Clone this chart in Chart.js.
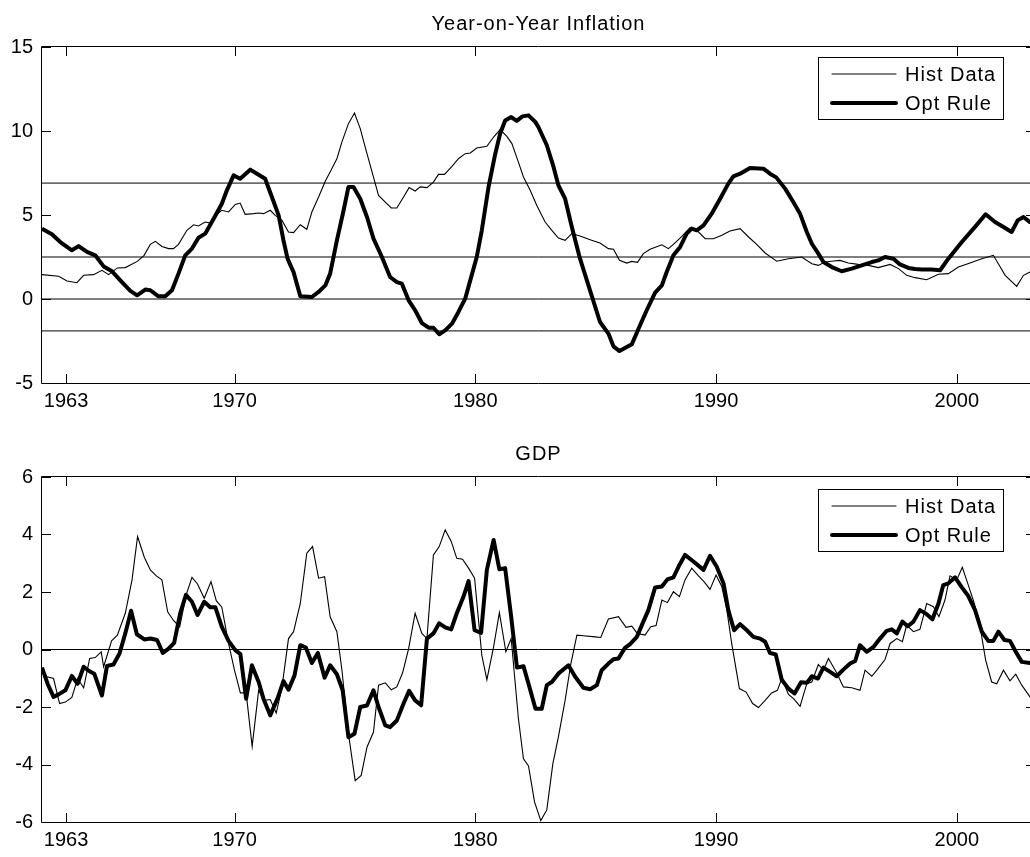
<!DOCTYPE html>
<html>
<head>
<meta charset="utf-8">
<title>Year-on-Year Inflation / GDP</title>
<script src="https://cdn.jsdelivr.net/npm/chart.js@4.4.1/dist/chart.umd.min.js"></script>
<style>
  html, body { margin: 0; padding: 0; background: #fff; overflow: hidden; }
  #wrap { position: relative; width: 1030px; height: 857px; overflow: hidden; }
  canvas { position: absolute; left: 0; }
  #chartInfl { top: 0; }
  #chartGdp { top: 420px; }
</style>
</head>
<body>
<div id="wrap">
  <canvas id="chartInfl" width="1040" height="420"></canvas>
  <canvas id="chartGdp" width="1040" height="437"></canvas>
</div>
<script>
// axis range and ticks
const xMin = 1962, xMax = 2003.25;
const xTickYears = [1963, 1970, 1980, 1990, 2000];
const inflTicks = [-5, 0, 5, 10, 15];
const gdpTicks = [-6, -4, -2, 0, 2, 4, 6];
const inflRefLines = [6.9, 2.5, 0, -1.9];
const gdpRefLines = [0];
const seriesNames = ["Hist Data", "Opt Rule"];

// Year-on-Year Inflation, optimal rule
const inflOptYears = [
  1962.00, 1962.41, 1962.76, 1963.24, 1963.52, 1963.87, 1964.21, 1964.56, 1964.91, 1965.32,
  1965.67, 1965.95, 1966.29, 1966.50, 1966.84, 1967.12, 1967.40, 1967.67, 1967.95, 1968.23,
  1968.50, 1968.78, 1969.13, 1969.47, 1969.68, 1969.96, 1970.23, 1970.65, 1970.93, 1971.27,
  1971.55, 1971.83, 1972.03, 1972.20, 1972.45, 1972.73, 1973.21, 1973.49, 1973.77, 1973.97,
  1974.25, 1974.53, 1974.73, 1974.94, 1975.22, 1975.50, 1975.77, 1976.12, 1976.46, 1976.74,
  1976.95, 1977.23, 1977.50, 1977.78, 1978.06, 1978.26, 1978.50, 1978.75, 1979.03, 1979.30,
  1979.58, 1979.79, 1980.06, 1980.27, 1980.55, 1980.83, 1981.03, 1981.24, 1981.49, 1981.72,
  1981.96, 1982.21, 1982.49, 1982.62, 1982.97, 1983.25, 1983.45, 1983.73, 1984.01, 1984.35,
  1984.70, 1985.18, 1985.53, 1985.74, 1985.99, 1986.50, 1986.78, 1987.12, 1987.47, 1987.75,
  1987.95, 1988.23, 1988.51, 1988.78, 1988.99, 1989.20, 1989.48, 1989.82, 1990.17, 1990.51,
  1990.72, 1991.00, 1991.41, 1991.97, 1992.24, 1992.50, 1992.87, 1993.21, 1993.49, 1993.77,
  1993.98, 1994.25, 1994.46, 1994.81, 1995.22, 1995.64, 1996.05, 1996.47, 1996.74, 1997.02,
  1997.37, 1997.64, 1997.99, 1998.27, 1998.54, 1998.96, 1999.31, 1999.65, 2000.21, 2000.76,
  2001.20, 2001.59, 2001.94, 2002.28, 2002.53, 2002.77, 2003.04, 2003.25
];
const inflOptVals = [
  4.19, 3.85, 3.39, 2.90, 3.15, 2.80, 2.60, 1.94, 1.65, 1.01,
  0.48, 0.22, 0.56, 0.52, 0.16, 0.16, 0.52, 1.51, 2.60, 3.00,
  3.65, 3.89, 4.78, 5.67, 6.47, 7.36, 7.16, 7.70, 7.46, 7.16,
  6.07, 4.98, 3.50, 2.40, 1.60, 0.16, 0.12, 0.42, 0.81, 1.51,
  3.49, 5.28, 6.67, 6.67, 5.97, 4.88, 3.59, 2.50, 1.31, 1.01,
  0.91, -0.08, -0.67, -1.43, -1.71, -1.71, -2.10, -1.87, -1.47, -0.77,
  0.02, 1.11, 2.50, 4.09, 6.67, 8.65, 9.84, 10.63, 10.83, 10.60,
  10.87, 10.93, 10.54, 10.24, 9.15, 7.86, 6.77, 5.97, 4.29, 2.40,
  0.81, -1.37, -2.06, -2.82, -3.10, -2.70, -1.77, -0.67, 0.38, 0.81,
  1.61, 2.60, 3.10, 3.89, 4.19, 4.09, 4.38, 5.08, 5.97, 6.87,
  7.30, 7.46, 7.80, 7.76, 7.46, 7.24, 6.57, 5.77, 5.08, 3.99,
  3.29, 2.70, 2.20, 1.90, 1.65, 1.81, 2.00, 2.20, 2.30, 2.50,
  2.40, 2.06, 1.85, 1.79, 1.75, 1.75, 1.71, 2.40, 3.39, 4.29,
  5.04, 4.58, 4.29, 3.99, 4.68, 4.88, 4.58, 4.60
];

// Year-on-Year Inflation, historical data
const inflHistYears = [
  1962.00, 1962.69, 1963.04, 1963.45, 1963.73, 1964.14, 1964.49, 1964.77, 1965.13, 1965.46,
  1965.96, 1966.24, 1966.50, 1966.71, 1966.98, 1967.26, 1967.46, 1967.67, 1968.02, 1968.30,
  1968.50, 1968.78, 1968.99, 1969.26, 1969.47, 1969.75, 1970.03, 1970.23, 1970.44, 1970.79,
  1971.00, 1971.21, 1971.48, 1971.69, 1971.97, 1972.24, 1972.45, 1972.73, 1973.00, 1973.21,
  1973.49, 1973.77, 1973.97, 1974.25, 1974.46, 1974.73, 1974.98, 1975.22, 1975.50, 1975.77,
  1975.98, 1976.26, 1976.51, 1976.74, 1977.02, 1977.25, 1977.50, 1977.71, 1977.99, 1978.26,
  1978.47, 1978.72, 1979.03, 1979.30, 1979.58, 1979.79, 1980.06, 1980.48, 1980.76, 1981.03,
  1981.31, 1981.52, 1981.79, 1982.00, 1982.28, 1982.55, 1982.90, 1983.18, 1983.45, 1983.73,
  1984.01, 1984.35, 1984.77, 1985.18, 1985.53, 1985.74, 1985.99, 1986.29, 1986.50, 1986.74,
  1986.98, 1987.26, 1987.75, 1988.02, 1988.23, 1988.58, 1988.92, 1989.20, 1989.55, 1989.89,
  1990.24, 1990.58, 1991.00, 1991.35, 1991.69, 1992.04, 1992.31, 1992.52, 1993.01, 1993.56,
  1993.98, 1994.25, 1994.53, 1994.88, 1995.15, 1995.50, 1995.91, 1996.33, 1996.74, 1997.23,
  1997.58, 1997.92, 1998.27, 1998.75, 1999.24, 1999.65, 2000.07, 2000.55, 2001.04, 2001.52,
  2002.01, 2002.49, 2002.77, 2003.04, 2003.25
];
const inflHistVals = [
  1.45, 1.35, 1.07, 0.97, 1.41, 1.45, 1.71, 1.45, 1.85, 1.87,
  2.24, 2.60, 3.25, 3.43, 3.13, 3.00, 3.00, 3.25, 4.09, 4.42,
  4.35, 4.58, 4.52, 5.04, 5.28, 5.18, 5.63, 5.71, 5.04, 5.08,
  5.12, 5.08, 5.28, 4.98, 4.68, 3.99, 3.95, 4.42, 4.15, 5.18,
  6.07, 7.02, 7.56, 8.35, 9.35, 10.44, 11.07, 10.14, 8.65, 7.26,
  6.17, 5.77, 5.42, 5.42, 6.07, 6.63, 6.43, 6.67, 6.63, 6.96,
  7.42, 7.42, 7.90, 8.35, 8.65, 8.69, 8.99, 9.09, 9.64, 10.08,
  9.68, 9.25, 8.15, 7.26, 6.47, 5.58, 4.58, 4.09, 3.63, 3.49,
  3.89, 3.75, 3.53, 3.33, 3.00, 2.96, 2.30, 2.14, 2.24, 2.18,
  2.70, 2.96, 3.23, 3.00, 3.25, 3.73, 4.25, 4.09, 3.59, 3.59,
  3.79, 4.05, 4.19, 3.69, 3.25, 2.74, 2.46, 2.25, 2.40, 2.50,
  2.10, 2.00, 2.20, 2.26, 2.30, 2.14, 2.06, 2.00, 1.87, 2.06,
  1.81, 1.41, 1.27, 1.15, 1.47, 1.51, 1.90, 2.14, 2.40, 2.60,
  1.41, 0.75, 1.41, 1.61, 1.65
];

// GDP, optimal rule
const gdpOptYears = [
  1962.00, 1962.23, 1962.48, 1962.69, 1962.97, 1963.24, 1963.48, 1963.73, 1963.94, 1964.17,
  1964.49, 1964.70, 1964.97, 1965.22, 1965.46, 1965.70, 1965.94, 1966.25, 1966.50, 1966.78,
  1967.02, 1967.26, 1967.49, 1967.74, 1967.98, 1968.23, 1968.46, 1968.74, 1968.99, 1969.20,
  1969.47, 1969.75, 1970.03, 1970.24, 1970.48, 1970.72, 1971.00, 1971.20, 1971.48, 1971.79,
  1972.03, 1972.24, 1972.49, 1972.73, 1972.96, 1973.21, 1973.46, 1973.74, 1973.97, 1974.25,
  1974.49, 1974.73, 1974.98, 1975.22, 1975.50, 1975.77, 1975.98, 1976.26, 1976.46, 1976.74,
  1977.02, 1977.25, 1977.50, 1977.75, 1977.99, 1978.26, 1978.50, 1978.75, 1979.00, 1979.23,
  1979.51, 1979.72, 1979.97, 1980.24, 1980.48, 1980.76, 1981.00, 1981.24, 1981.49, 1981.73,
  1982.00, 1982.21, 1982.50, 1982.76, 1982.97, 1983.18, 1983.45, 1983.87, 1984.15, 1984.49,
  1984.77, 1985.05, 1985.25, 1985.53, 1985.74, 1985.95, 1986.22, 1986.43, 1986.71, 1986.98,
  1987.19, 1987.47, 1987.75, 1987.98, 1988.23, 1988.48, 1988.71, 1989.06, 1989.48, 1989.75,
  1990.03, 1990.31, 1990.51, 1990.75, 1991.00, 1991.28, 1991.55, 1991.83, 1992.04, 1992.24,
  1992.48, 1992.73, 1993.01, 1993.26, 1993.53, 1993.77, 1993.98, 1994.23, 1994.46, 1994.74,
  1995.01, 1995.29, 1995.57, 1995.78, 1995.98, 1996.26, 1996.54, 1996.81, 1997.09, 1997.30,
  1997.51, 1997.74, 1997.96, 1998.20, 1998.47, 1998.75, 1998.99, 1999.24, 1999.44, 1999.65,
  1999.93, 2000.21, 2000.48, 2000.76, 2001.04, 2001.31, 2001.52, 2001.73, 2001.98, 2002.21,
  2002.45, 2002.70, 2003.04, 2003.25
];
const gdpOptVals = [
  -0.63, -1.19, -1.65, -1.56, -1.42, -0.92, -1.19, -0.60, -0.74, -0.84,
  -1.60, -0.57, -0.52, -0.14, 0.56, 1.35, 0.53, 0.35, 0.38, 0.33,
  -0.12, 0.03, 0.23, 1.26, 1.90, 1.66, 1.20, 1.66, 1.47, 1.47,
  0.79, 0.30, -0.02, -0.16, -1.71, -0.55, -1.13, -1.71, -2.29, -1.69,
  -1.10, -1.40, -0.90, 0.15, 0.07, -0.47, -0.12, -0.98, -0.55, -0.86,
  -1.42, -3.05, -2.93, -2.00, -1.95, -1.42, -2.00, -2.64, -2.70, -2.47,
  -1.88, -1.44, -1.77, -1.94, 0.38, 0.56, 0.91, 0.77, 0.70, 1.26,
  1.84, 2.38, 0.67, 0.58, 2.77, 3.81, 2.79, 2.83, 1.14, -0.63,
  -0.58, -1.19, -2.06, -2.06, -1.24, -1.13, -0.84, -0.55, -0.95, -1.33,
  -1.38, -1.24, -0.72, -0.49, -0.34, -0.31, 0.06, 0.19, 0.44, 0.97,
  1.37, 2.16, 2.19, 2.44, 2.51, 2.94, 3.29, 3.06, 2.77, 3.26,
  2.88, 2.30, 1.37, 0.67, 0.88, 0.67, 0.44, 0.38, 0.27, -0.12,
  -0.17, -1.05, -1.36, -1.53, -1.14, -1.16, -0.93, -1.01, -0.63, -0.78,
  -0.93, -0.70, -0.49, -0.40, 0.15, -0.08, 0.09, 0.38, 0.65, 0.70,
  0.56, 0.97, 0.81, 0.97, 1.37, 1.23, 1.05, 1.60, 2.24, 2.30,
  2.51, 2.16, 1.86, 1.37, 0.62, 0.30, 0.30, 0.62, 0.33, 0.30,
  -0.08, -0.43, -0.47, -0.47
];

// GDP, historical data
const gdpHistYears = [
  1962.00, 1962.21, 1962.48, 1962.73, 1962.97, 1963.24, 1963.48, 1963.73, 1963.98, 1964.21,
  1964.46, 1964.56, 1964.89, 1965.13, 1965.46, 1965.74, 1965.97, 1966.25, 1966.50, 1966.75,
  1966.98, 1967.22, 1967.47, 1967.72, 1967.99, 1968.23, 1968.46, 1968.74, 1969.02, 1969.24,
  1969.47, 1969.75, 1969.99, 1970.24, 1970.48, 1970.73, 1971.00, 1971.23, 1971.48, 1971.73,
  1971.96, 1972.10, 1972.24, 1972.45, 1972.73, 1973.00, 1973.24, 1973.49, 1973.74, 1973.97,
  1974.25, 1974.46, 1974.73, 1975.01, 1975.26, 1975.50, 1975.77, 1975.98, 1976.26, 1976.51,
  1976.74, 1976.98, 1977.23, 1977.50, 1977.78, 1977.99, 1978.26, 1978.50, 1978.75, 1979.00,
  1979.23, 1979.47, 1979.72, 1979.97, 1980.27, 1980.48, 1980.76, 1981.00, 1981.27, 1981.49,
  1981.79, 1982.00, 1982.21, 1982.46, 1982.72, 1982.97, 1983.22, 1983.45, 1983.73, 1983.97,
  1984.22, 1984.49, 1984.98, 1985.21, 1985.53, 1985.95, 1986.26, 1986.50, 1986.73, 1987.05,
  1987.29, 1987.51, 1987.75, 1987.98, 1988.23, 1988.48, 1988.71, 1988.99, 1989.27, 1989.50,
  1989.75, 1990.00, 1990.24, 1990.45, 1990.65, 1990.97, 1991.25, 1991.52, 1991.76, 1992.04,
  1992.31, 1992.55, 1992.73, 1993.01, 1993.22, 1993.49, 1993.77, 1993.98, 1994.25, 1994.46,
  1994.67, 1995.01, 1995.29, 1995.64, 1995.98, 1996.19, 1996.47, 1996.68, 1997.02, 1997.23,
  1997.51, 1997.74, 1997.92, 1998.20, 1998.47, 1998.75, 1999.03, 1999.26, 1999.51, 1999.72,
  2000.00, 2000.23, 2000.48, 2000.73, 2000.97, 2001.20, 2001.45, 2001.66, 2001.94, 2002.21,
  2002.45, 2002.70, 2003.04, 2003.25
];
const gdpHistVals = [
  -0.72, -0.95, -1.01, -1.88, -1.83, -1.67, -1.01, -1.33, -0.31, -0.28,
  -0.08, -0.60, 0.30, 0.50, 1.26, 2.42, 3.93, 3.21, 2.77, 2.56,
  2.42, 1.31, 1.00, 0.79, 1.90, 2.51, 2.28, 1.78, 2.36, 1.70,
  1.47, 0.21, -0.70, -1.51, -1.51, -3.37, -1.42, -1.77, -1.74, -2.21,
  -1.36, -0.49, 0.38, 0.62, 1.60, 3.35, 3.58, 2.48, 2.53, 1.14,
  0.62, -0.72, -2.93, -4.56, -4.38, -3.40, -2.87, -1.24, -1.16, -1.40,
  -1.30, -0.81, 0.03, 1.26, 0.56, 0.38, 3.29, 3.58, 4.16, 3.76,
  3.17, 3.14, 2.83, 2.48, -0.20, -1.05, 0.09, 1.28, -0.08, 0.38,
  -2.40, -3.80, -4.05, -5.30, -5.95, -5.58, -3.98, -3.05, -1.77, -0.49,
  0.50, 0.48, 0.44, 0.42, 1.06, 1.14, 0.77, 0.81, 0.56, 0.50,
  0.79, 0.83, 1.72, 1.63, 2.01, 1.84, 2.42, 2.83, 2.56, 2.36,
  2.09, 2.59, 2.19, 1.37, 0.21, -1.36, -1.48, -1.88, -2.02, -1.77,
  -1.51, -1.42, -1.01, -1.56, -1.71, -1.98, -1.19, -1.13, -0.52, -0.72,
  -0.31, -0.81, -1.30, -1.33, -1.42, -0.72, -0.93, -0.72, -0.35, 0.21,
  0.38, 0.27, 0.85, 0.62, 0.70, 1.60, 1.49, 1.14, 1.72, 2.56,
  2.42, 2.86, 2.24, 1.60, 0.79, -0.37, -1.13, -1.19, -0.72, -1.09,
  -0.86, -1.24, -1.65, -1.80
];

const FONT_FAMILY = "'Liberation Sans', Arial, Helvetica, sans-serif";
const FONT_SIZE = 20;

function toPoints(xs, ys) {
	return xs.map(function(x, i) { return { x: x, y: ys[i] }; });
}

// box, inward ticks, title and legend drawn the old matlab way
const matlabFrame = {
	id: "matlabFrame",
	afterDatasetsDraw(chart, args, opts) {
		const ctx = chart.ctx;
		const a = chart.chartArea;
		const xs = chart.scales.x, ys = chart.scales.y;
		const tl = 9;
		ctx.save();
		ctx.strokeStyle = "#000";
		ctx.lineWidth = 1;
		ctx.beginPath();
		ctx.rect(Math.round(a.left) - 0.5, Math.round(a.top) - 0.5,
			Math.round(a.right - a.left) + 1, Math.round(a.bottom - a.top) + 1);
		xs.ticks.forEach(function(t) {
			const px = Math.round(xs.getPixelForValue(t.value)) + 0.5;
			ctx.moveTo(px, a.bottom); ctx.lineTo(px, a.bottom - tl);
			ctx.moveTo(px, a.top); ctx.lineTo(px, a.top + tl);
		});
		ys.ticks.forEach(function(t) {
			const py = Math.round(ys.getPixelForValue(t.value)) + 0.5;
			ctx.moveTo(a.left, py); ctx.lineTo(a.left + tl, py);
			ctx.moveTo(a.right, py); ctx.lineTo(a.right - tl, py);
		});
		ctx.stroke();

		// title
		ctx.fillStyle = "#000";
		ctx.font = FONT_SIZE + "px " + FONT_FAMILY;
		ctx.letterSpacing = "1px";
		ctx.textAlign = "center";
		ctx.textBaseline = "alphabetic";
		ctx.fillText(opts.title, (a.left + a.right) / 2, a.top - 17);

		// legend
		const bw = 185, bh = 62;
		const bx = Math.round(a.right - 32 - bw), by = Math.round(a.top + opts.legendGap);
		ctx.fillStyle = "#fff";
		ctx.fillRect(bx, by, bw, bh);
		ctx.strokeRect(bx + 0.5, by + 0.5, bw, bh);
		ctx.textAlign = "left";
		ctx.textBaseline = "middle";
		opts.legendItems.forEach(function(idx, i) {
			const ds = chart.data.datasets[idx];
			const ry = by + 17 + i * 29;
			ctx.beginPath();
			ctx.lineWidth = ds.borderWidth;
			ctx.lineCap = "round";
			ctx.moveTo(bx + 14, ry);
			ctx.lineTo(bx + 78, ry);
			ctx.stroke();
			ctx.fillStyle = "#000";
			ctx.fillText(ds.label, bx + 87, ry + 1);
		});
		ctx.restore();
	}
};

function makeChart(id, cfg) {
	const refSets = cfg.refLines.map(function(v) {
		return {
			label: "",
			data: [{ x: xMin, y: v }, { x: xMax, y: v }],
			borderColor: "#000",
			borderWidth: 1,
			pointRadius: 0
		};
	});
	return new Chart(document.getElementById(id), {
		type: "line",
		data: {
			datasets: [{
				label: seriesNames[1],
				data: toPoints(cfg.optYears, cfg.optVals),
				borderColor: "#000",
				borderWidth: 4,
				borderJoinStyle: "round",
				pointRadius: 0,
				tension: 0
			}, {
				label: seriesNames[0],
				data: toPoints(cfg.histYears, cfg.histVals),
				borderColor: "#000",
				borderWidth: 1.1,
				pointRadius: 0,
				tension: 0
			}].concat(refSets)
		},
		options: {
			responsive: false,
			animation: false,
			devicePixelRatio: 1,
			layout: {
				padding: { top: cfg.padTop, right: 5, left: 0, bottom: 0 }
			},
			plugins: {
				legend: { display: false },
				tooltip: { enabled: false },
				matlabFrame: {
					title: cfg.title,
					legendGap: cfg.legendGap,
					legendItems: [1, 0]
				}
			},
			scales: {
				x: {
					type: "linear",
					min: xMin,
					max: xMax,
					grid: { display: false, drawTicks: false },
					border: { display: false },
					afterBuildTicks: function(s) {
						s.ticks = xTickYears.map(function(v) { return { value: v }; });
					},
					afterFit: function(s) { s.height = cfg.xAxisHeight; },
					ticks: {
						autoSkip: false,
						maxRotation: 0,
						padding: 6,
						color: "#000",
						font: { family: FONT_FAMILY, size: FONT_SIZE },
						callback: function(v) { return String(v); }
					}
				},
				y: {
					min: cfg.yTicks[0],
					max: cfg.yTicks[cfg.yTicks.length - 1],
					grid: { display: false, drawTicks: false },
					border: { display: false },
					afterBuildTicks: function(s) {
						s.ticks = cfg.yTicks.map(function(v) { return { value: v }; });
					},
					afterFit: function(s) { s.width = 42; },
					ticks: {
						padding: 9,
						color: "#000",
						font: { family: FONT_FAMILY, size: FONT_SIZE },
						callback: function(v) { return String(v); }
					}
				}
			}
		},
		plugins: [matlabFrame]
	});
}

const inflChart = makeChart("chartInfl", {
	title: "Year-on-Year Inflation",
	optYears: inflOptYears, optVals: inflOptVals,
	histYears: inflHistYears, histVals: inflHistVals,
	refLines: inflRefLines,
	yTicks: inflTicks,
	padTop: 47, xAxisHeight: 37, legendGap: 10
});

const gdpChart = makeChart("chartGdp", {
	title: "GDP",
	optYears: gdpOptYears, optVals: gdpOptVals,
	histYears: gdpHistYears, histVals: gdpHistVals,
	refLines: gdpRefLines,
	yTicks: gdpTicks,
	padTop: 57, xAxisHeight: 35, legendGap: 12
});
</script>
</body>
</html>
